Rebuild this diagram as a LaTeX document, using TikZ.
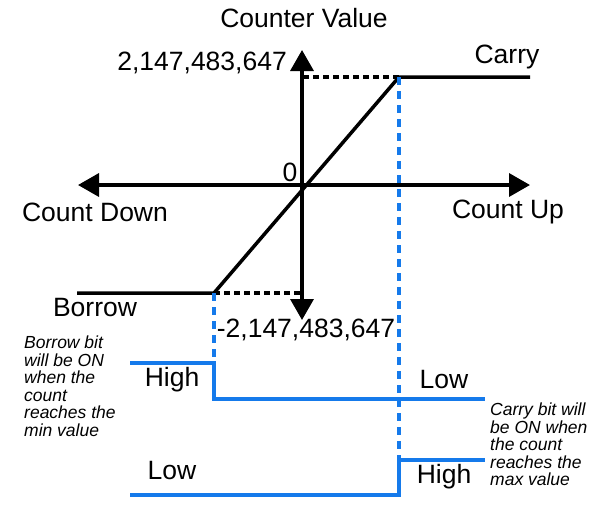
\documentclass[tikz,border=0pt]{standalone}
\usepackage{fontspec}
\setmainfont{Liberation Sans}
\usetikzlibrary{arrows.meta}
\definecolor{sigblue}{RGB}{21,122,235}
\begin{document}
\begin{tikzpicture}[x=1pt, y=-1pt,
  axis/.style={line width=3.5pt, {Triangle[length=21pt,width=23pt]}-{Triangle[length=21pt,width=23pt]}},
  sat/.style={line width=3.5pt},
  guide/.style={line width=3.5pt, dash pattern=on 6pt off 4pt},
  bluedash/.style={sigblue, line width=3.5pt, dash pattern=on 8pt off 6pt},
  signal/.style={sigblue, line width=3.5pt},
  lbl/.style={font=\fontsize{26.5}{30}\selectfont, inner sep=0pt},
  note/.style={font=\fontsize{17.5}{17.5}\selectfont\itshape, align=left, inner sep=0pt}]
\useasboundingbox (0,0) rectangle (603,515);

% axes
\coordinate (o) at (302,185);
\coordinate (vtop) at (302,50);
\coordinate (vbot) at (302,320);
\coordinate (hleft) at (78,185);
\coordinate (hright) at (530,185);
\draw[axis] (vbot) -- (vtop);
\draw[axis] (hleft) -- (hright);

% counter curve
\coordinate (bstart) at (77,293);
\coordinate (cmin) at (214,293);
\coordinate (cmax) at (399,77);
\coordinate (cend) at (530,77);
\draw[sat] (bstart) -- (cmin) -- (cmax) -- (cend);
\draw[guide] (cmin) -- (cmin -| o);
\draw[guide] (cmax) -- (cmax -| o);

% borrow / carry bits
\coordinate (b0) at (130,363);
\coordinate (b1) at (214,363);
\coordinate (b2) at (214,399);
\coordinate (b3) at (485,399);
\coordinate (c0) at (130,495);
\coordinate (c1) at (399,495);
\coordinate (c2) at (399,460);
\coordinate (c3) at (485,460);
\draw[bluedash] (cmin) -- (b1);
\draw[bluedash] (cmax) -- (c2);
\draw[signal] (b0) -- (b1) -- (b2) -- (b3);
\draw[signal] (c0) -- (c1) -- (c2) -- (c3);

% labels
\node[lbl] (title) at (304,18) {Counter Value};
\node[lbl, anchor=east] (maxv) at (287,63) {2,147,483,647};
\node[lbl] (minv) at (306,330) {-2,147,483,647};
\node[lbl] (zero) at (290,172) {0};
\node[lbl] (down) at (95,212) {Count Down};
\node[lbl] (up) at (508,212) {Count Up};
\node[lbl] (carry) at (507,57) {Carry};
\node[lbl] (borrow) at (95,308) {Borrow};
\node[lbl] (bhigh) at (172,380) {High};
\node[lbl] (blow) at (444,380) {Low};
\node[lbl] (clow) at (172,471) {Low};
\node[lbl] (chigh) at (444,477) {High};
\node[note, anchor=north west] (bnote) at (24,336) {Borrow bit\\will be ON\\when the\\count\\reaches the\\min value};
\node[note, anchor=north west] (cnote) at (490,403) {Carry bit will\\be ON when\\the count\\reaches the\\max value};
\end{tikzpicture}
\end{document}
